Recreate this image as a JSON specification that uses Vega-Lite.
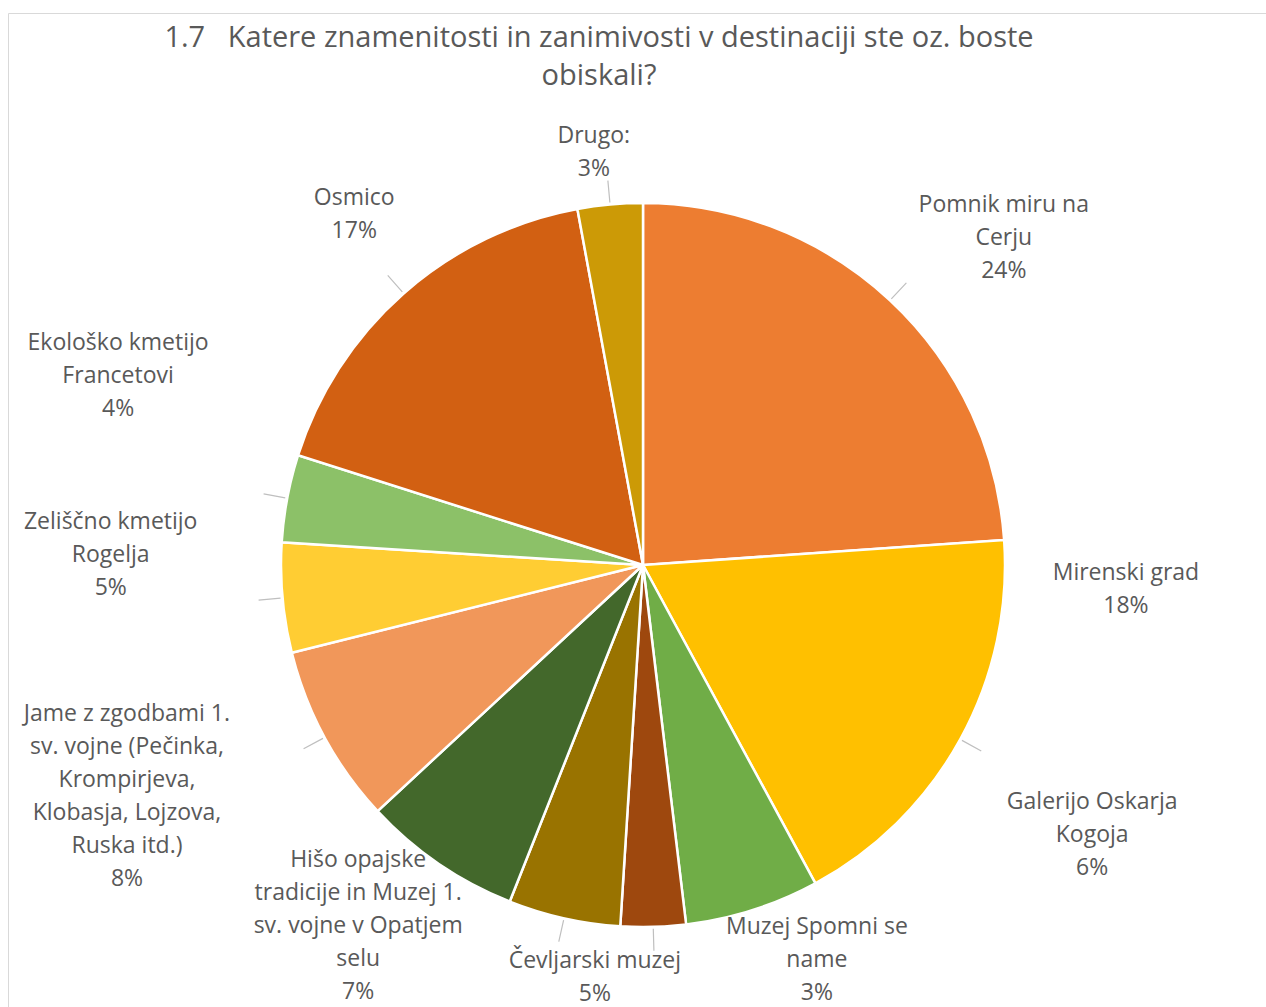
{
  "$schema": "https://vega.github.io/schema/vega-lite/v6.json",
  "width": 1270,
  "height": 1104,
  "autosize": {"type": "none"},
  "padding": {"left": 8, "top": 13, "right": 0, "bottom": 0},
  "background": "white",
  "view": {"stroke": "#D9D9D9", "strokeWidth": 1},
  "config": {
    "style": {"view": {"stroke": "#D9D9D9", "strokeWidth": 1}},
    "font": "Open Sans",
    "text": {"font": "Open Sans", "fontSize": 23, "lineHeight": 33, "lineBreak": "\n", "color": "#595959", "align": "center", "baseline": "middle"}
  },
  "title": {
    "text": ["1.7\u00a0\u00a0\u00a0Katere znamenitosti in zanimivosti v destinaciji ste oz. boste", "obiskali?"],
    "anchor": "middle",
    "frame": "group",
    "dx": -44,
    "offset": -103,
    "font": "Open Sans",
    "fontSize": 29,
    "fontWeight": "normal",
    "lineHeight": 38,
    "color": "#595959"
  },
  "data": {
    "values": [
      {"i": 1, "name": "Pomnik miru na Cerju", "value": 23.9, "label": "Pomnik miru na\nCerju\n24%"},
      {"i": 2, "name": "Mirenski grad", "value": 18.2, "label": "Mirenski grad\n18%"},
      {"i": 3, "name": "Galerijo Oskarja Kogoja", "value": 6.0, "label": "Galerijo Oskarja\nKogoja\n6%"},
      {"i": 4, "name": "Muzej Spomni se name", "value": 2.9, "label": "Muzej Spomni se\nname\n3%"},
      {"i": 5, "name": "Čevljarski muzej", "value": 5.0, "label": "Čevljarski muzej\n5%"},
      {"i": 6, "name": "Hišo opajske tradicije in Muzej 1. sv. vojne v Opatjem selu", "value": 7.1, "label": "Hišo opajske\ntradicije in Muzej 1.\nsv. vojne v Opatjem\nselu\n7%"},
      {"i": 7, "name": "Jame z zgodbami 1. sv. vojne (Pečinka, Krompirjeva, Klobasja, Lojzova, Ruska itd.)", "value": 8.0, "label": "Jame z zgodbami 1.\nsv. vojne (Pečinka,\nKrompirjeva,\nKlobasja, Lojzova,\nRuska itd.)\n8%"},
      {"i": 8, "name": "Zeliščno kmetijo Rogelja", "value": 4.9, "label": "Zeliščno kmetijo\nRogelja\n5%"},
      {"i": 9, "name": "Ekološko kmetijo Francetovi", "value": 3.9, "label": "Ekološko kmetijo\nFrancetovi\n4%"},
      {"i": 10, "name": "Osmico", "value": 17.2, "label": "Osmico\n17%"},
      {"i": 11, "name": "Drugo:", "value": 2.9, "label": "Drugo:\n3%"}
    ]
  },
  "encoding": {
    "theta": {"field": "value", "type": "quantitative", "stack": true},
    "order": {"field": "i", "type": "quantitative"}
  },
  "layer": [
    {
      "mark": {"type": "arc", "radius": 362, "stroke": "white", "strokeWidth": 2.5},
      "encoding": {
        "color": {
          "field": "name",
          "type": "nominal",
          "legend": null,
          "scale": {
            "domain": ["Pomnik miru na Cerju", "Mirenski grad", "Galerijo Oskarja Kogoja", "Muzej Spomni se name", "Čevljarski muzej", "Hišo opajske tradicije in Muzej 1. sv. vojne v Opatjem selu", "Jame z zgodbami 1. sv. vojne (Pečinka, Krompirjeva, Klobasja, Lojzova, Ruska itd.)", "Zeliščno kmetijo Rogelja", "Ekološko kmetijo Francetovi", "Osmico", "Drugo:"],
            "range": ["#ED7D31", "#FFC000", "#70AD47", "#9E480E", "#997300", "#43682B", "#F1975A", "#FFCD33", "#8CC168", "#D26012", "#CC9A06"]
          }
        }
      }
    },
    {
      "mark": {"type": "arc", "radius": 386, "radius2": 364, "padAngle": 3, "filled": false, "stroke": "#BFBFBF", "strokeWidth": 1.2},
      "encoding": {
        "strokeOpacity": {"condition": {"test": "datum.i === 3 || datum.i === 6", "value": 0}, "value": 1}
      }
    },
    {"mark": {"type": "text", "radius": 510, "thetaOffset": 0.035}, "encoding": {"text": {"condition": {"test": "datum.i === 1", "field": "label", "type": "nominal"}, "value": ""}}},
    {"mark": {"type": "text", "radius": 483, "thetaOffset": -0.486}, "encoding": {"text": {"condition": {"test": "datum.i === 2", "field": "label", "type": "nominal"}, "value": ""}}},
    {"mark": {"type": "text", "radius": 508, "thetaOffset": -0.777}, "encoding": {"text": {"condition": {"test": "datum.i === 3", "field": "label", "type": "nominal"}, "value": ""}}},
    {"mark": {"type": "text", "radius": 402, "thetaOffset": -0.419}, "encoding": {"text": {"condition": {"test": "datum.i === 4", "field": "label", "type": "nominal"}, "value": ""}}},
    {"mark": {"type": "text", "radius": 399, "thetaOffset": -0.099}, "encoding": {"text": {"condition": {"test": "datum.i === 5", "field": "label", "type": "nominal"}, "value": ""}}},
    {"mark": {"type": "text", "radius": 410, "thetaOffset": 0.168}, "encoding": {"text": {"condition": {"test": "datum.i === 6", "field": "label", "type": "nominal"}, "value": ""}}},
    {"mark": {"type": "text", "radius": 537, "thetaOffset": 0.216}, "encoding": {"text": {"condition": {"test": "datum.i === 7", "field": "label", "type": "nominal"}, "value": ""}}},
    {"mark": {"type": "text", "radius": 534, "thetaOffset": 0.171}, "encoding": {"text": {"condition": {"test": "datum.i === 8", "field": "label", "type": "nominal"}, "value": ""}}},
    {"mark": {"type": "text", "radius": 570, "thetaOffset": 0.215}, "encoding": {"text": {"condition": {"test": "datum.i === 9", "field": "label", "type": "nominal"}, "value": ""}}},
    {"mark": {"type": "text", "radius": 467, "thetaOffset": 0.056}, "encoding": {"text": {"condition": {"test": "datum.i === 10", "field": "label", "type": "nominal"}, "value": ""}}},
    {"mark": {"type": "text", "radius": 432, "thetaOffset": -0.023}, "encoding": {"text": {"condition": {"test": "datum.i === 11", "field": "label", "type": "nominal"}, "value": ""}}}
  ]
}
